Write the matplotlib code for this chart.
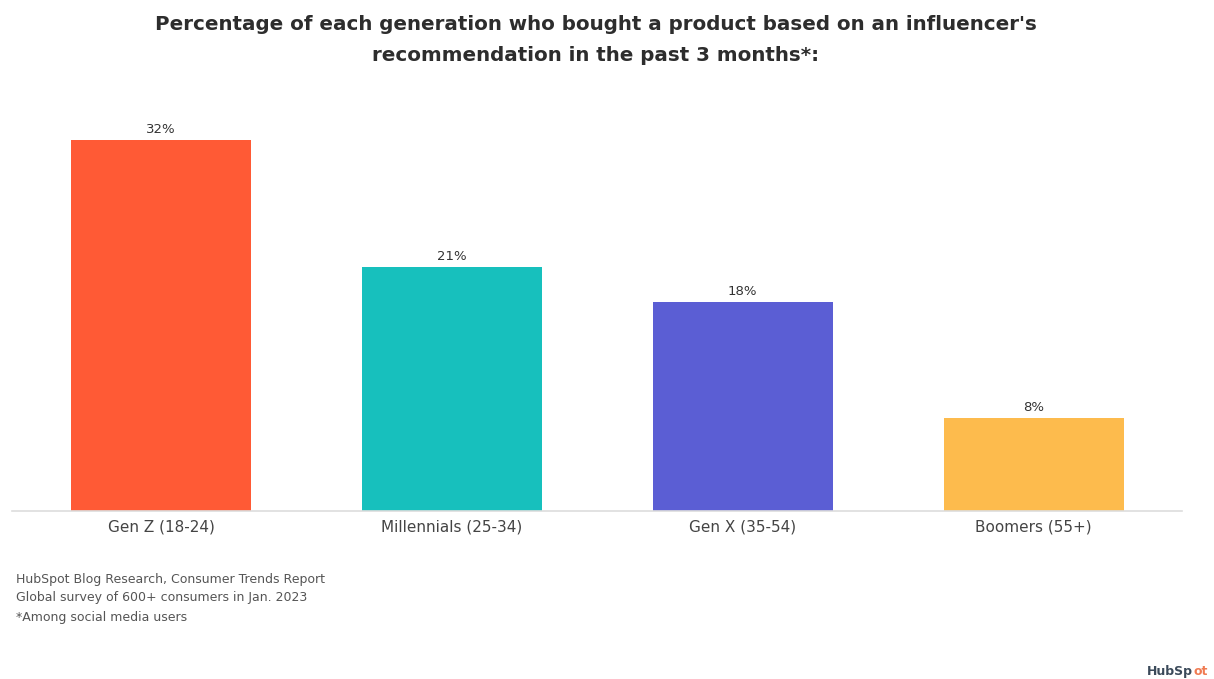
import matplotlib
matplotlib.use("Agg")
import matplotlib.pyplot as plt

# Survey results by generation
generations = ["Gen Z (18-24)", "Millennials (25-34)", "Gen X (35-54)", "Boomers (55+)"]
pct_bought = [32, 21, 18, 8]
bar_colors = ["#FF5A35", "#17C0BD", "#5B5ED4", "#FDBB4D"]

title = ("Percentage of each generation who bought a product based on an influencer's\n"
         "recommendation in the past 3 months*:")
notes = ["HubSpot Blog Research, Consumer Trends Report",
         "Global survey of 600+ consumers in Jan. 2023",
         "*Among social media users"]

plt.rcParams['font.family'] = ['DejaVu Sans']

W, H = 1214, 679
fig = plt.figure(figsize=(W / 100, H / 100), dpi=100)
fig.patch.set_facecolor("white")

ax = fig.add_axes([12 / W, (H - 511) / H, 1170 / W, 406 / H])
x = range(len(generations))
bars = ax.bar(x, pct_bought, width=0.619, color=bar_colors, zorder=2)
for rect, v in zip(bars, pct_bought):
    ax.text(rect.get_x() + rect.get_width() / 2, v + 0.35, f"{v}%",
            ha="center", va="bottom", fontsize=9.5, color="#333333")

ax.set_xlim(-0.512, 3.51)
ax.set_ylim(0, 35)
ax.set_xticks(list(x))
ax.set_xticklabels(generations, fontsize=11, color="#444444")
ax.tick_params(axis="x", length=0, pad=6)
ax.set_yticks([])
for side in ["top", "right", "left"]:
    ax.spines[side].set_visible(False)
ax.spines["bottom"].set_color("#dddddd")
ax.spines["bottom"].set_linewidth(1.2)

fig.text(596 / W, 1 - 40 / H, title, ha="center", va="center", fontsize=14.3,
         fontweight="bold", color="#2d2d2d", linespacing=1.75)

for i, line in enumerate(notes):
    fig.text(16 / W, 1 - (579 + 19 * i) / H, line, ha="left", va="center",
             fontsize=9, color="#555555")

# logo wordmark, cut off at the right edge
fig.text(1193 / W, 1 - 675 / H, "HubSp", ha="right", va="baseline",
         fontsize=9, fontweight="bold", color="#3b4a5a")
fig.text(1193 / W, 1 - 675 / H, "ot", ha="left", va="baseline",
         fontsize=9, fontweight="bold", color="#F07B52")

fig.savefig("out.png", dpi=100, facecolor="white")
